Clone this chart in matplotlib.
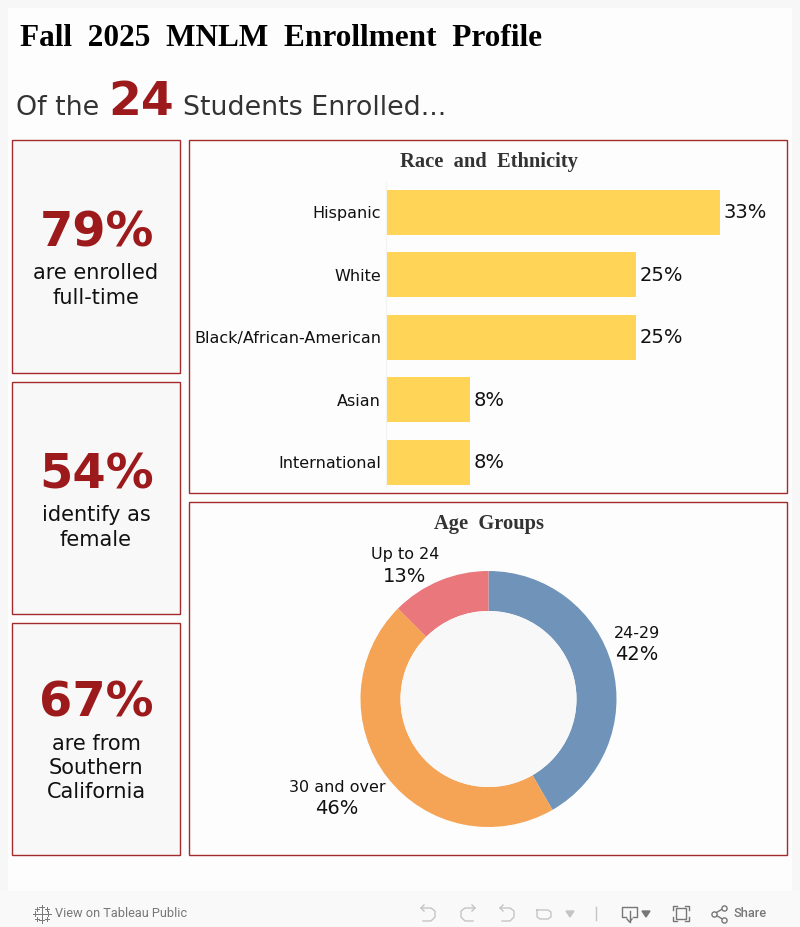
"""Fall 2025 MNLM enrollment dashboard."""

import matplotlib

matplotlib.use("Agg")
import matplotlib.pyplot as plt
from matplotlib.patches import Rectangle

plt.rcParams["font.family"] = ["DejaVu Sans"]

W, H = 800, 927

# Data
title = "Fall  2025  MNLM  Enrollment  Profile"
student_count = "24"
kpi_values = ["79%", "54%", "67%"]
kpi_labels = ["are enrolled\nfull-time", "identify as\nfemale", "are from\nSouthern\nCalifornia"]
race_names = ["Hispanic", "White", "Black/African-American", "Asian", "International"]
race_pct = [33.33, 25.0, 25.0, 8.33, 8.33]
race_labels = ["33%", "25%", "25%", "8%", "8%"]
age_names = ["24-29", "30 and over", "Up to 24"]
age_pct = [41.67, 45.83, 12.5]
age_labels = ["42%", "46%", "13%"]

RED = "#9c1a1c"
BORDER = "#a32a2d"
YELLOW = "#ffd457"
AGE_COLORS = ["#7094b9", "#f5a354", "#e9777b"]
DARK = "#333333"


def px_axes(fig, x0, y0, x1, y1):
    """Axes placed by pixel box, y measured from the top."""
    return fig.add_axes([x0 / W, 1 - y1 / H, (x1 - x0) / W, (y1 - y0) / H])


fig = plt.figure(figsize=(W / 100, H / 100), dpi=100, facecolor="#f7f7f7")

# Overlay in pixel coordinates for panels and text
bg = px_axes(fig, 0, 0, W, H)
bg.set_xlim(0, W)
bg.set_ylim(H, 0)
bg.axis("off")
bg.add_patch(Rectangle((8, 8), 784, 883, fc="#fdfdfd", ec="none"))
bg.add_patch(Rectangle((0, 891), W, 36, fc="#f9f9f9", ec="none"))

bg.text(20, 38, title, family="Liberation Serif", weight="bold", fontsize=22.5,
        color="black", va="center", ha="left")
bg.text(16, 115, "Of the", fontsize=19.4, color=DARK, va="baseline")
bg.text(108, 115, student_count, fontsize=34, weight="bold", color=RED, va="baseline")
bg.text(183, 115, "Students Enrolled...", fontsize=19.4, color=DARK, va="baseline")

# KPI cards
kpi_boxes = [(12, 140, 168, 233), (12, 382, 168, 232), (12, 623, 168, 232)]
kpi_value_y = [233, 475, 703]
kpi_label_y = [285.5, 527.5, 768]
for box, val, lab, vy, ly in zip(kpi_boxes, kpi_values, kpi_labels, kpi_value_y, kpi_label_y):
    bg.add_patch(Rectangle(box[:2], box[2], box[3], fc="#f8f8f8", ec=BORDER, lw=1))
    bg.text(96.5, vy, val, fontsize=34.5, weight="bold", color=RED, ha="center", va="center")
    bg.text(96, ly, lab, fontsize=15, color="#111111", ha="center", va="center", linespacing=1.28)

# Chart panels
bg.add_patch(Rectangle((189, 140), 598, 353, fc="#fdfdfd", ec=BORDER, lw=1))
bg.add_patch(Rectangle((189, 502), 598, 353, fc="#fdfdfd", ec=BORDER, lw=1))
bg.text(488.5, 162, "Race  and  Ethnicity", family="Liberation Serif", weight="bold",
        fontsize=14.8, color=DARK, ha="center", va="center")
bg.text(488.5, 524, "Age  Groups", family="Liberation Serif", weight="bold",
        fontsize=14.8, color=DARK, ha="center", va="center")

# Race bars
ax = px_axes(fig, 386.2, 181.5, 786.2, 493.5)
ax.patch.set_alpha(0)
ax.barh(range(len(race_pct)), race_pct, height=0.72, color=YELLOW)
ax.set_xlim(0, 40)
ax.set_ylim(4.5, -0.49)
for s in ["top", "right", "bottom"]:
    ax.spines[s].set_visible(False)
ax.spines["left"].set_color("#f3f3f3")
ax.spines["left"].set_linewidth(0.8)
ax.spines["left"].set_bounds(4.42, -0.49)
ax.set_xticks([])
ax.set_yticks(range(len(race_names)), race_names)
ax.tick_params(axis="y", length=0, pad=3.6, labelsize=11.5, labelcolor="#111111")
for i, (v, lab) in enumerate(zip(race_pct, race_labels)):
    ax.annotate(lab, (v, i), xytext=(2.7, -0.5), textcoords="offset points", fontsize=14,
                color="#111111", va="center", ha="left")

# Age donut
ax2 = px_axes(fig, 488.5 - 128, 699 - 128, 488.5 + 128, 699 + 128)
ax2.pie(age_pct, colors=AGE_COLORS, startangle=90, counterclock=False, radius=1,
        wedgeprops={"width": 40 / 128, "edgecolor": "none"})
ax2.set_xlim(-1, 1)
ax2.set_ylim(-1, 1)
ax2.add_patch(plt.Circle((0, 0), 88 / 128, fc="#f8f8f8", ec="none"))

age_name_pos = [(637, 633), (337, 788), (405, 555)]
age_pct_pos = [(637, 654), (337, 809), (405, 576)]
for name, lab, np_, pp in zip(age_names, age_labels, age_name_pos, age_pct_pos):
    bg.text(np_[0], np_[1], name, fontsize=11.5, color="#111111", ha="center", va="center")
    bg.text(pp[0], pp[1], lab, fontsize=14, color="#111111", ha="center", va="center")

# Toolbar
GREY = "#777777"
LIGHT = "#c4c4c4"
bg.text(55, 913.5, "View on Tableau Public", family="Roboto", fontsize=9.2, color=GREY, va="center")
bg.text(733, 913.5, "Share", family="Roboto", fontsize=9.2, weight="medium", color=GREY, va="center")
# tableau mark
for cx, cy, r in [(41.5, 913.5, 6), (35, 913.5, 2.5), (48, 913.5, 2.5), (41.5, 907, 2.5), (41.5, 920, 2.5),
                  (36.5, 908.5, 2), (46.5, 908.5, 2), (36.5, 918.5, 2), (46.5, 918.5, 2)]:
    bg.plot([cx - r, cx + r], [cy, cy], color=GREY, lw=0.7)
    bg.plot([cx, cx], [cy - r, cy + r], color=GREY, lw=0.7)
# undo / redo / revert / refresh
for x, d in [(428, 1), (468, -1), (507, 1)]:
    bg.plot([x - d * 7, x + d * 3, x + d * 7, x + d * 7, x + d * 3, x - d * 5],
            [908, 908, 911, 917, 921, 921], color=LIGHT, lw=1)
    bg.plot([x - d * 4, x - d * 7, x - d * 4], [905, 908, 911], color=LIGHT, lw=1)
bg.plot([537, 548, 551, 551, 548, 540, 537, 537], [910, 910, 912, 917, 919, 919, 917, 910], color=LIGHT, lw=1)
bg.fill([566, 574, 570], [911, 911, 917], color=LIGHT)
bg.plot([595.5, 595.5], [907, 920], color=LIGHT, lw=1)
# download
bg.plot([626, 622, 622, 637, 637, 633], [917, 917, 907, 907, 917, 917], color=GREY, lw=1)
bg.plot([629.5, 629.5], [911, 922], color=GREY, lw=1)
bg.plot([627, 629.5, 632], [919, 922, 919], color=GREY, lw=1)
bg.fill([642, 650, 646], [911, 911, 917], color=GREY)
# full screen
bg.add_patch(Rectangle((676, 908), 10, 11, fc="none", ec=GREY, lw=1))
for xs, ys in [([673, 673, 677], [910, 906, 906]), ([685, 689, 689], [906, 906, 910]),
               ([673, 673, 677], [917, 921, 921]), ([685, 689, 689], [921, 921, 917])]:
    bg.plot(xs, ys, color=GREY, lw=1)
# share glyph
bg.plot([724, 714, 724], [908, 914, 920], color=GREY, lw=1)
bg.scatter([714, 724, 724], [914, 908, 920], s=14, fc="#f9f9f9", ec=GREY, lw=1, zorder=3)

bg.set_xlim(0, W)
bg.set_ylim(H, 0)
fig.savefig("out.png", dpi=100, facecolor=fig.get_facecolor())
